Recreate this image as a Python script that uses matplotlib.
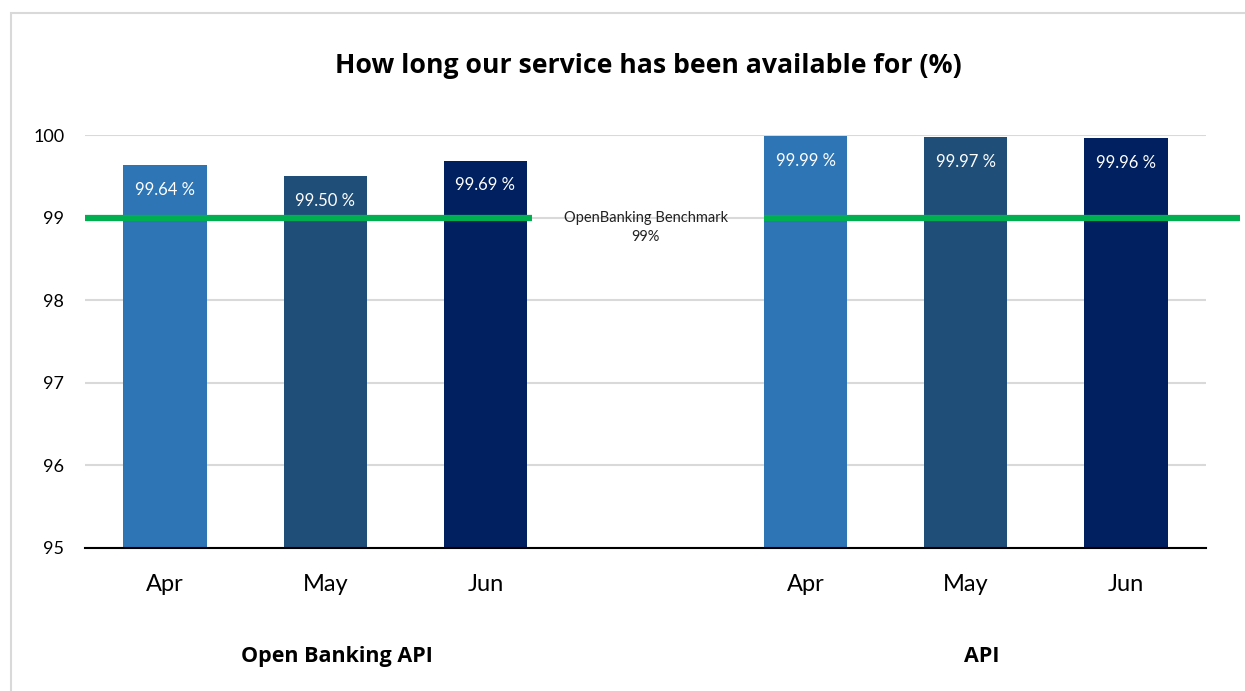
import matplotlib
matplotlib.use("Agg")
import matplotlib.pyplot as plt
from matplotlib.patches import Rectangle

title = "How long our service has been available for (%)"
months = ["Apr", "May", "Jun"]
groups = ["Open Banking API", "API"]
ob_values = [99.64, 99.50, 99.69]
api_values = [99.99, 99.97, 99.96]
bar_colors = ["#2E75B6", "#1F4E79", "#002060"]
benchmark = 99
benchmark_label = "OpenBanking Benchmark\n99%"
yticks = [95, 96, 97, 98, 99, 100]

plt.rcParams['font.family'] = ['Lato', 'DejaVu Sans']
BOLD = ['Open Sans', 'DejaVu Sans']

W, H = 1245, 691
fig = plt.figure(figsize=(W / 100, H / 100), dpi=100)
ax = fig.add_axes([85 / W, (H - 548) / H, (1206 - 85) / W, (548 - 135) / H])

pos1 = [0, 1, 2]
pos2 = [4, 5, 6]
ax.bar(pos1, [v - 95 for v in ob_values], bottom=95, width=0.52, color=bar_colors, zorder=2)
ax.bar(pos2, [v - 95 for v in api_values], bottom=95, width=0.52, color=bar_colors, zorder=2)

for p, v in zip(pos1 + pos2, ob_values + api_values):
    ax.text(p, v - 0.3, f"{v:.2f} %", ha="center", va="center", color="white", fontsize=12, zorder=4)

ax.plot([-0.5, 2.29], [benchmark, benchmark], color="#00B050", lw=4.5, zorder=3, solid_capstyle="butt", clip_on=False)
ax.plot([3.74, 6.71], [benchmark, benchmark], color="#00B050", lw=4.5, zorder=3, solid_capstyle="butt", clip_on=False)
ax.text(3, benchmark - 0.12, benchmark_label, ha="center", va="center", fontsize=10.5, color="#222222", linespacing=1.4)

ax.set_xlim(-0.5, 6.5)
ax.set_ylim(95, 100)
ax.set_yticks(yticks)
ax.set_yticklabels([str(t) for t in yticks], fontsize=13)
ax.grid(axis="y", color="#D9D9D9", lw=1.5, zorder=0)
ax.set_axisbelow(True)
for s in ["left", "right", "top"]:
    ax.spines[s].set_visible(False)
ax.spines["bottom"].set_color("#000000")
ax.spines["bottom"].set_linewidth(1.5)
ax.spines["bottom"].set_zorder(5)
ax.tick_params(axis="y", length=0, pad=15)
ax.tick_params(axis="x", length=0, pad=19)
ax.set_xticks(pos1 + pos2)
ax.set_xticklabels(months + months, fontsize=17)

fig.text(648 / W, 1 - 66 / H, title, ha="center", va="center", fontsize=19.2, fontweight="bold", family=BOLD)
ax.text(1.075, -0.262, groups[0], transform=ax.get_xaxis_transform(), ha="center", va="center",
        fontsize=15.5, fontweight="bold", family=BOLD)
ax.text(5.1, -0.262, groups[1], transform=ax.get_xaxis_transform(), ha="center", va="center",
        fontsize=15.5, fontweight="bold", family=BOLD)

fig.patches.append(Rectangle((11 / W, -0.1), 1.2, 1 - 13 / H + 0.1, transform=fig.transFigure,
                             fill=False, edgecolor="#D9D9D9", lw=1.5))

fig.savefig("out.png", dpi=100)
